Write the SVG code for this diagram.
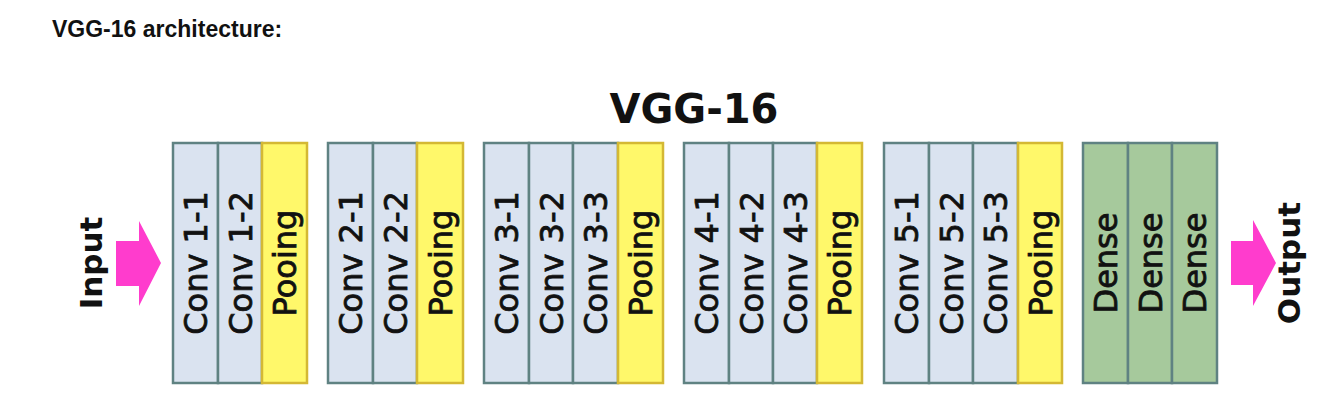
<svg xmlns="http://www.w3.org/2000/svg" width="1333" height="400" viewBox="0 0 1333 400">
<style>
.conv{fill:#dae3f0;stroke:#5f8282;stroke-width:2.5}
.pool{fill:#fff86a;stroke:#d4b834;stroke-width:2.5}
.dense{fill:#a6c99c;stroke:#5f8282;stroke-width:2.5}
.lbl{font-family:"DejaVu Sans",Verdana,sans-serif;font-size:32px;fill:#111;stroke:#111;stroke-width:0.8;text-anchor:middle}
.io{font-family:"DejaVu Sans",Verdana,sans-serif;font-size:31px;font-weight:bold;fill:#111;text-anchor:middle}
.arrow{fill:#ff3ccd}
</style>
<rect width="1333" height="400" fill="#fff"/>
<text x="52" y="37" font-family="'Liberation Sans',Arial,sans-serif" font-size="23" font-weight="bold" fill="#111">VGG-16 architecture:</text>
<text x="694" y="123" font-family="'DejaVu Sans',Verdana,sans-serif" font-size="40" font-weight="bold" fill="#111" text-anchor="middle">VGG-16</text>

<g id="input">
<text class="io" transform="translate(102,263) rotate(-90)">Input</text>
</g>
<g id="output">
<text class="io" transform="translate(1300,263) rotate(-90)">Output</text>
</g>

<g id="connectors">
<polygon class="arrow" points="116,241 139,241 139,221 161,263 139,306 139,286 116,286"/>
<polygon class="arrow" points="1231,241 1253,241 1253,220 1276,263 1253,306 1253,285 1231,285"/>
</g>

<g id="block1">
<rect class="conv" x="173" y="143" width="45" height="240"/>
<rect class="conv" x="218" y="143" width="44" height="240"/>
<rect class="pool" x="262" y="143" width="45" height="240"/>
<text class="lbl" transform="translate(207,263) rotate(-90)">Conv 1-1</text>
<text class="lbl" transform="translate(251.5,263) rotate(-90)">Conv 1-2</text>
<text class="lbl" transform="translate(296,263) rotate(-90)">Pooing</text>
</g>
<g id="block2">
<rect class="conv" x="328" y="143" width="45" height="240"/>
<rect class="conv" x="373" y="143" width="44" height="240"/>
<rect class="pool" x="417" y="143" width="46" height="240"/>
<text class="lbl" transform="translate(362,263) rotate(-90)">Conv 2-1</text>
<text class="lbl" transform="translate(406.5,263) rotate(-90)">Conv 2-2</text>
<text class="lbl" transform="translate(451.5,263) rotate(-90)">Pooing</text>
</g>
<g id="block3">
<rect class="conv" x="484" y="143" width="45" height="240"/>
<rect class="conv" x="529" y="143" width="44" height="240"/>
<rect class="conv" x="573" y="143" width="45" height="240"/>
<rect class="pool" x="618" y="143" width="45" height="240"/>
<text class="lbl" transform="translate(518,263) rotate(-90)">Conv 3-1</text>
<text class="lbl" transform="translate(562.5,263) rotate(-90)">Conv 3-2</text>
<text class="lbl" transform="translate(607,263) rotate(-90)">Conv 3-3</text>
<text class="lbl" transform="translate(652,263) rotate(-90)">Pooing</text>
</g>
<g id="block4">
<rect class="conv" x="684" y="143" width="45" height="240"/>
<rect class="conv" x="729" y="143" width="44" height="240"/>
<rect class="conv" x="773" y="143" width="44" height="240"/>
<rect class="pool" x="817" y="143" width="45" height="240"/>
<text class="lbl" transform="translate(718,263) rotate(-90)">Conv 4-1</text>
<text class="lbl" transform="translate(762.5,263) rotate(-90)">Conv 4-2</text>
<text class="lbl" transform="translate(806.5,263) rotate(-90)">Conv 4-3</text>
<text class="lbl" transform="translate(851,263) rotate(-90)">Pooing</text>
</g>
<g id="block5">
<rect class="conv" x="884" y="143" width="45" height="240"/>
<rect class="conv" x="929" y="143" width="44" height="240"/>
<rect class="conv" x="973" y="143" width="45" height="240"/>
<rect class="pool" x="1018" y="143" width="44" height="240"/>
<text class="lbl" transform="translate(918,263) rotate(-90)">Conv 5-1</text>
<text class="lbl" transform="translate(962.5,263) rotate(-90)">Conv 5-2</text>
<text class="lbl" transform="translate(1007,263) rotate(-90)">Conv 5-3</text>
<text class="lbl" transform="translate(1051.5,263) rotate(-90)">Pooing</text>
</g>
<g id="dense">
<rect class="dense" x="1083" y="143" width="45" height="240"/>
<rect class="dense" x="1128" y="143" width="44" height="240"/>
<rect class="dense" x="1172" y="143" width="45" height="240"/>
<text class="lbl" transform="translate(1117,263) rotate(-90)">Dense</text>
<text class="lbl" transform="translate(1161.5,263) rotate(-90)">Dense</text>
<text class="lbl" transform="translate(1206,263) rotate(-90)">Dense</text>
</g>
</svg>
